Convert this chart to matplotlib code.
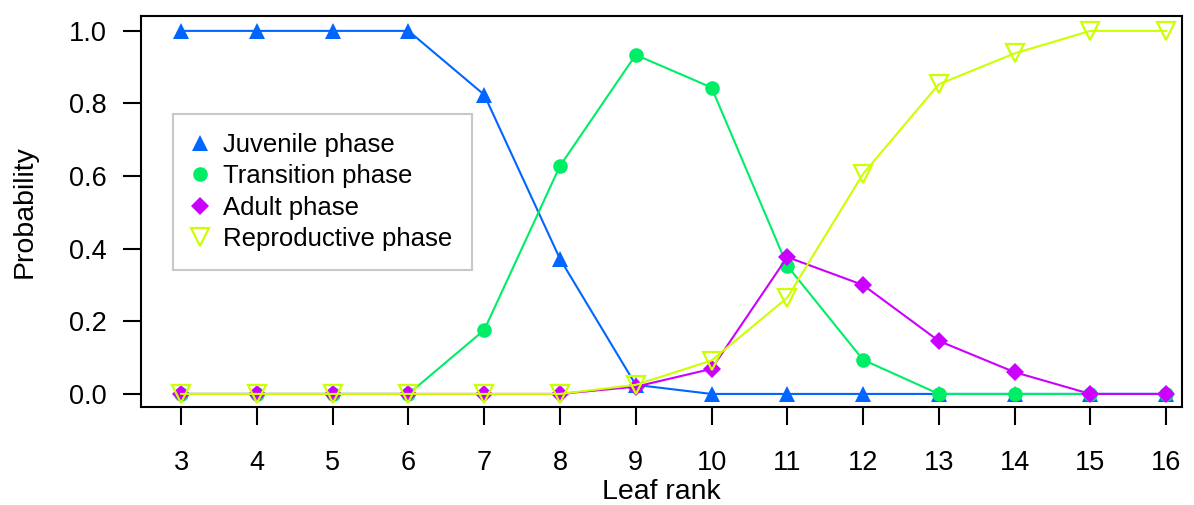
import matplotlib
matplotlib.use("Agg")
import matplotlib.pyplot as plt

plt.rcParams['font.family'] = ['Liberation Sans', 'DejaVu Sans']

leaf_rank = [3, 4, 5, 6, 7, 8, 9, 10, 11, 12, 13, 14, 15, 16]
juvenile = [1.0, 1.0, 1.0, 1.0, 0.824, 0.372, 0.025, 0, 0, 0, 0, 0, 0, 0]
transition = [0, 0, 0, 0, 0.176, 0.628, 0.934, 0.844, 0.353, 0.094, 0, 0, 0, 0]
adult = [0, 0, 0, 0, 0, 0, 0.02, 0.069, 0.377, 0.300, 0.146, 0.060, 0, 0]
reproductive = [0, 0, 0, 0, 0, 0, 0.025, 0.092, 0.265, 0.606, 0.853, 0.938, 1.0, 1.0]

labels = ["Juvenile phase", "Transition phase", "Adult phase", "Reproductive phase"]
colors = ["#0066FF", "#00EE66", "#CC00FF", "#CCFF00"]
y_ticks = [0.0, 0.2, 0.4, 0.6, 0.8, 1.0]

fig = plt.figure(figsize=(11.94, 5.05), dpi=100)
ax = fig.add_axes([141 / 1194, 98 / 505, 1041 / 1194, 391 / 505])

ax.plot(leaf_rank, juvenile, color=colors[0], lw=1.5, marker='^',
        markersize=12, markeredgewidth=0, label=labels[0])
ax.plot(leaf_rank, transition, color=colors[1], lw=1.5, marker='o',
        markersize=10.5, markeredgewidth=0, label=labels[1])
ax.plot(leaf_rank, adult, color=colors[2], lw=1.5, marker='D',
        markersize=9.5, markeredgewidth=0, label=labels[2])
ax.plot(leaf_rank, reproductive, color=colors[3], lw=1.5, marker='v',
        markersize=13, markerfacecolor='none', markeredgewidth=1.6,
        label=labels[3])

ax.set_xlim(2.47, 16.21)
ax.set_ylim(-0.036, 1.041)
ax.set_xticks(leaf_rank)
ax.set_yticks(y_ticks)
ax.set_yticklabels([f"{v:.1f}" for v in y_ticks])
ax.tick_params(axis='both', direction='out', length=13, width=1.5,
               labelsize=19.5, pad=12)
ax.tick_params(axis='x', pad=18)
for s in ax.spines.values():
    s.set_linewidth(1.5)

ax.set_xlabel("Leaf rank", fontsize=20.5, labelpad=2)
ax.set_ylabel("Probability", fontsize=20.5, labelpad=22)

leg = ax.legend(loc='upper left', bbox_to_anchor=(32 / 1041, 1 - 98 / 391),
                fontsize=18.5, frameon=True, fancybox=False, borderpad=0.75,
                labelspacing=0.28, handlelength=0.6, handletextpad=0.6,
                borderaxespad=0)
leg.get_frame().set_edgecolor("#BBBBBB")
leg.get_frame().set_linewidth(1.5)
for h in leg.get_lines():
    h.set_linestyle('none')

fig.savefig("out.png", dpi=100)
